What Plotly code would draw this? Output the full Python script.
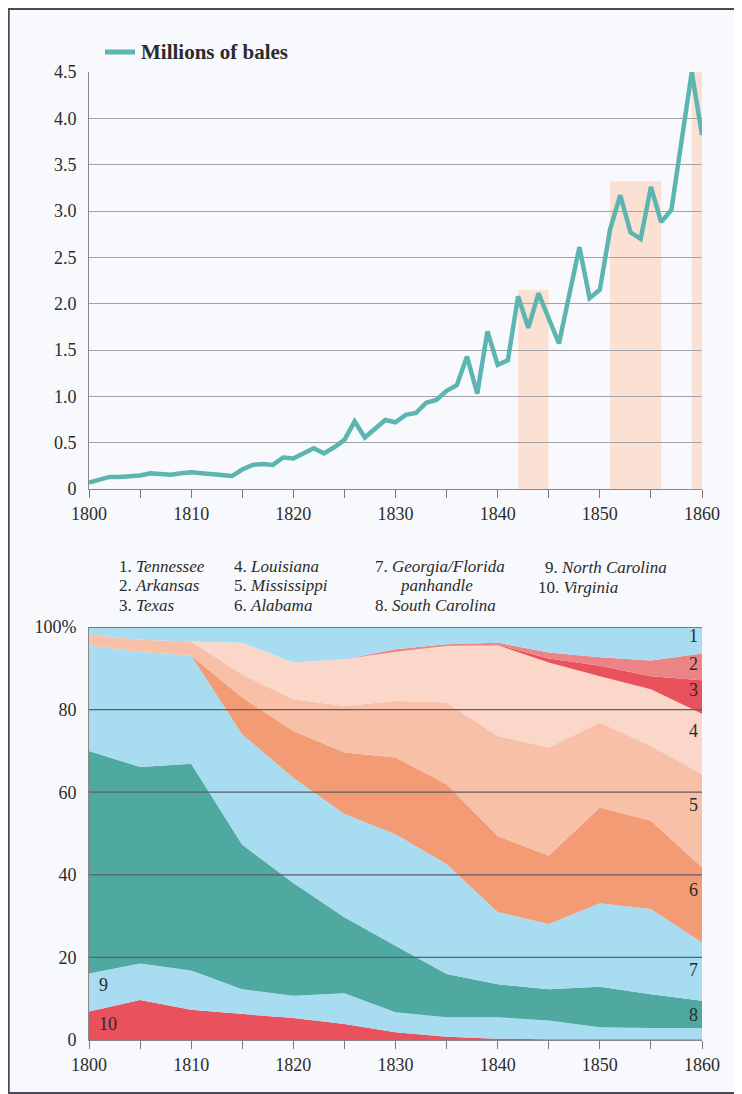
import plotly.graph_objects as go

# ---------------- data ----------------
years = list(range(1800, 1861))
bales = [0.07, 0.10, 0.13, 0.13, 0.14, 0.145, 0.17, 0.16, 0.155, 0.17,
         0.18, 0.17, 0.155, 0.15, 0.14, 0.21, 0.26, 0.27, 0.26, 0.34,
         0.33, 0.38, 0.44, 0.385, 0.45, 0.53, 0.73, 0.555, 0.655, 0.745,
         0.72, 0.80, 0.82, 0.93, 0.96, 1.06, 1.12, 1.43, 1.03, 1.70,
         1.34, 1.39, 2.08, 1.74, 2.11, 1.84, 1.57, 2.09, 2.61, 2.06,
         2.15, 2.80, 3.17, 2.77, 2.70, 3.26, 2.88, 3.01, 3.76, 4.50, 3.82]

shade_start = [1842, 1851, 1859]
shade_end = [1845, 1856, 1860]
shade_top = [2.15, 3.32, 4.5]

share_years = [1800, 1805, 1810, 1815, 1820, 1825, 1830, 1835, 1840, 1845, 1850, 1855, 1860]
virginia = [6.9, 9.7, 7.3, 6.3, 5.3, 3.9, 1.9, 0.8, 0.3, 0.2, 0.2, 0.2, 0.2]
north_carolina = [9.2, 8.8, 9.5, 6.0, 5.4, 7.4, 4.8, 4.7, 5.2, 4.5, 2.9, 2.7, 2.7]
south_carolina = [53.9, 47.6, 50.1, 35.0, 27.3, 18.4, 16.1, 10.5, 8.0, 7.6, 9.8, 8.2, 6.6]
georgia = [25.5, 27.9, 26.2, 26.7, 25.5, 25.0, 27.0, 26.6, 17.5, 15.8, 20.2, 20.6, 14.1]
alabama = [0, 0, 0, 8.9, 11.3, 14.9, 18.6, 19.3, 18.4, 16.5, 23.2, 21.4, 18.2]
mississippi = [2.7, 2.9, 3.4, 5.6, 7.7, 11.3, 13.7, 19.8, 24.2, 26.2, 20.6, 18.1, 22.6]
louisiana = [0, 0, 0, 7.7, 8.9, 11.3, 11.9, 13.7, 22.0, 20.6, 11.2, 13.7, 14.6]
texas = [0, 0, 0, 0, 0, 0, 0, 0, 0.1, 1.0, 2.5, 3.2, 8.1]
arkansas = [0, 0, 0, 0, 0, 0, 0.6, 0.4, 0.5, 1.4, 2.1, 3.8, 6.5]
tennessee = [1.8, 3.1, 3.5, 3.8, 8.6, 7.8, 5.4, 4.2, 3.8, 6.2, 7.3, 8.1, 6.4]

top_ticks = [0, 0.5, 1.0, 1.5, 2.0, 2.5, 3.0, 3.5, 4.0, 4.5]
top_tick_text = ["0", "0.5", "1.0", "1.5", "2.0", "2.5", "3.0", "3.5", "4.0", "4.5"]
pct_ticks = [0, 20, 40, 60, 80, 100]
pct_tick_text = ["0", "20", "40", "60", "80", "100%"]
year_ticks = [1800, 1810, 1820, 1830, 1840, 1850, 1860]

legend_items = [
    ("1.", "Tennessee"), ("2.", "Arkansas"), ("3.", "Texas"),
    ("4.", "Louisiana"), ("5.", "Mississippi"), ("6.", "Alabama"),
    ("7.", "Georgia/Florida"), ("", "panhandle"), ("8.", "South Carolina"),
    ("9.", "North Carolina"), ("10.", "Virginia"),
]

# ---------------- styling ----------------
OFF = 8                     # default page margin of the html body
W, H = 742 - OFF, 1094 - OFF
FONT = "Liberation Serif, Times New Roman, serif"
TXT = "#2b2b2b"
BG = "#f8f9fc"
LIGHT_BLUE = "#a8dcf1"
TEAL = "#4fa9a1"
RED = "#e9515c"
PINK = "#ec8486"
PEACH_L = "#fad7c8"
PEACH_M = "#f7c0a7"
ORANGE = "#f29b74"
LINE = "#5cb5b0"

def px_x(x):   # screen px -> paper
    return (x - OFF) / W

def px_y(y):
    return 1 - (y - OFF) / H

xdom = [px_x(89), px_x(702)]

fig = go.Figure()

fig.add_trace(go.Scatter(x=years, y=bales, mode="lines",
                         line=dict(color=LINE, width=4.5),
                         xaxis="x", yaxis="y", showlegend=False))

layers = [
    (virginia, RED), (north_carolina, LIGHT_BLUE), (south_carolina, TEAL),
    (georgia, LIGHT_BLUE), (alabama, ORANGE), (mississippi, PEACH_M),
    (louisiana, PEACH_L), (texas, RED), (arkansas, PINK), (tennessee, LIGHT_BLUE),
]
for vals, col in layers:
    fig.add_trace(go.Scatter(x=share_years, y=vals, mode="lines",
                             stackgroup="one", fillcolor=col,
                             line=dict(width=0, color=col),
                             xaxis="x2", yaxis="y2", showlegend=False))

shapes = []
for s, e, t in zip(shade_start, shade_end, shade_top):
    shapes.append(dict(type="rect", xref="x", yref="y", x0=s, x1=e, y0=0, y1=t,
                       fillcolor="#fbe1d4", line=dict(width=0), layer="below"))
for v in pct_ticks[1:]:
    shapes.append(dict(type="line", xref="x2", yref="y2", x0=1800, x1=1860,
                       y0=v, y1=v, line=dict(color="#5e5e66", width=1.3),
                       layer="above"))
shapes.append(dict(type="line", xref="paper", yref="paper",
                   x0=px_x(105), x1=px_x(135), y0=px_y(52), y1=px_y(52),
                   line=dict(color=LINE, width=5)))
shapes.append(dict(type="rect", xref="paper", yref="paper",
                   x0=0.001, x1=0.999, y0=0.001, y1=0.999,
                   line=dict(color="#4a4a55", width=2)))

annotations = [dict(xref="paper", yref="paper", x=px_x(139), y=px_y(52),
                    text="<b>Millions of bales</b>", showarrow=False,
                    xanchor="left", yanchor="middle",
                    font=dict(family=FONT, size=21, color=TXT))]

positions = [
    (117, 566), (117, 585), (117, 605),
    (232, 566), (232, 585), (232, 605),
    (373, 566), (398, 585), (373, 605),
    (543, 567), (536, 587),
]
for (num, name), (x, y) in zip(legend_items, positions):
    txt = (num + " " if num else "") + "<i>" + name + "</i>"
    annotations.append(dict(xref="paper", yref="paper", x=px_x(x), y=px_y(y),
                            text=txt, showarrow=False, xanchor="left",
                            yanchor="middle",
                            font=dict(family=FONT, size=17, color=TXT)))

num_labels = [("1", 1859.2, 97.8), ("2", 1859.2, 91.0), ("3", 1859.2, 84.7),
              ("4", 1859.2, 74.8), ("5", 1859.2, 56.9), ("6", 1859.2, 36.3),
              ("7", 1859.2, 16.9), ("8", 1859.2, 6.1),
              ("9", 1801.4, 13.3), ("10", 1801.9, 3.9)]
for t, x, y in num_labels:
    annotations.append(dict(xref="x2", yref="y2", x=x, y=y, text=t,
                            showarrow=False, xanchor="center", yanchor="middle",
                            font=dict(family=FONT, size=18, color=TXT)))

axis_common = dict(tickfont=dict(family=FONT, size=18, color=TXT))

fig.update_layout(
    width=W, height=H,
    margin=dict(l=0, r=0, t=0, b=0, autoexpand=False),
    paper_bgcolor=BG, plot_bgcolor=BG,
    showlegend=False,
    shapes=shapes, annotations=annotations,
    xaxis=dict(domain=xdom, anchor="y", range=[1800, 1860],
               tickvals=year_ticks, ticks="outside", ticklen=8,
               tickcolor="#777", showline=True, linecolor="#888",
               showgrid=False, zeroline=False,
               minor=dict(dtick=5, tick0=1800, ticks="outside", ticklen=8,
                          tickcolor="#777", showgrid=False),
               **axis_common),
    yaxis=dict(domain=[px_y(489), px_y(72)], anchor="x", range=[0, 4.5],
               tickvals=top_ticks, ticktext=top_tick_text, ticks="",
               showline=True, linecolor="#888", showgrid=True,
               gridcolor="#a2a2a8", gridwidth=1, zeroline=False,
               ticklabelstandoff=8, **axis_common),
    xaxis2=dict(domain=xdom, anchor="y2", range=[1800, 1860],
                tickvals=year_ticks, ticks="outside", ticklen=8,
                tickcolor="#777", showline=True, linecolor="#888",
                showgrid=False, zeroline=False,
                minor=dict(dtick=5, tick0=1800, ticks="outside", ticklen=8,
                           tickcolor="#777", showgrid=False),
                **axis_common),
    yaxis2=dict(domain=[px_y(1040), px_y(627)], anchor="x2", range=[0, 100],
                tickvals=pct_ticks, ticktext=pct_tick_text, ticks="",
                showline=True, linecolor="#888", showgrid=False,
                zeroline=False, ticklabelstandoff=8, **axis_common),
)

fig.write_html("out.html")
